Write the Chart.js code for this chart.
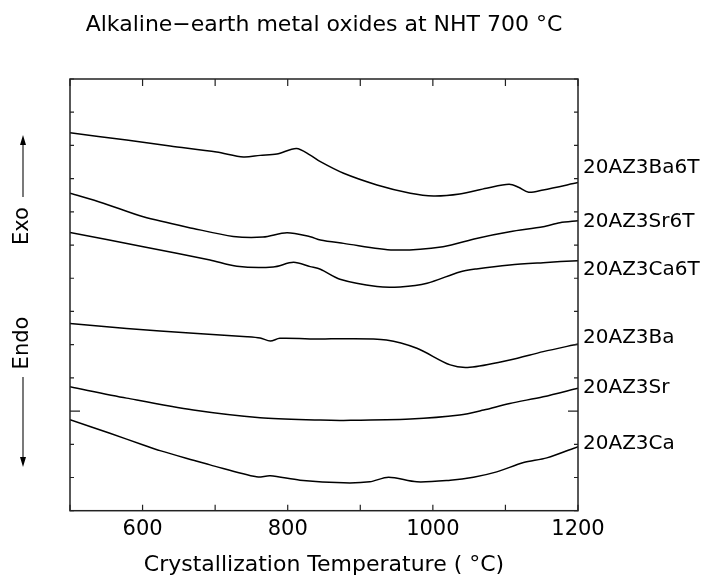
<!DOCTYPE html>
<html>
<head>
<meta charset="utf-8">
<script src="https://cdn.jsdelivr.net/npm/chart.js@4.4.1/dist/chart.umd.min.js"></script>
<style>
  html, body { margin: 0; padding: 0; background: #fff; }
  #wrap { width: 707px; height: 585px; }
</style>
</head>
<body>
<div id="wrap"><canvas id="dta"></canvas></div>
<script>
const seriesNames = ['20AZ3Ba6T', '20AZ3Sr6T', '20AZ3Ca6T', '20AZ3Ba', '20AZ3Sr', '20AZ3Ca'];
const xTickLabels = [600, 800, 1000, 1200];

// temperatures (deg C) and DTA signal (arb. units)
const tempBa6T = [500, 578, 638, 702, 739, 762, 785, 812, 831, 845, 877, 923, 969, 1001, 1037, 1074, 1105, 1118, 1132, 1152, 1200];
const valBa6T  = [11.38, 11.16, 10.98, 10.80, 10.65, 10.70, 10.74, 10.91, 10.71, 10.51, 10.16, 9.81, 9.56, 9.48, 9.54, 9.71, 9.83, 9.74, 9.59, 9.66, 9.88];

const tempSr6T = [500, 546, 601, 670, 725, 766, 799, 831, 845, 877, 946, 1014, 1060, 1106, 1152, 1175, 1200];
const valSr6T  = [9.56, 9.26, 8.85, 8.50, 8.26, 8.24, 8.37, 8.25, 8.15, 8.05, 7.85, 7.95, 8.20, 8.40, 8.55, 8.67, 8.73];

const tempCa6T = [500, 601, 693, 730, 780, 808, 831, 845, 872, 923, 955, 992, 1037, 1060, 1106, 1152, 1200];
const valCa6T  = [8.38, 7.95, 7.55, 7.36, 7.34, 7.48, 7.35, 7.27, 6.97, 6.75, 6.74, 6.85, 7.19, 7.28, 7.40, 7.47, 7.53];

const tempBa = [500, 578, 670, 744, 762, 776, 789, 845, 877, 936, 978, 1024, 1051, 1106, 1152, 1200];
const valBa  = [5.64, 5.49, 5.34, 5.24, 5.20, 5.11, 5.19, 5.17, 5.18, 5.14, 4.89, 4.39, 4.32, 4.54, 4.79, 5.02];

const tempSr = [500, 578, 670, 762, 845, 877, 969, 1037, 1070, 1106, 1152, 1200];
const valSr  = [3.73, 3.39, 3.03, 2.80, 2.73, 2.72, 2.76, 2.88, 3.03, 3.23, 3.43, 3.69];

const tempCa = [500, 555, 601, 624, 670, 693, 757, 776, 817, 877, 913, 939, 978, 1024, 1056, 1088, 1125, 1157, 1200];
const valCa  = [2.74, 2.33, 1.98, 1.81, 1.52, 1.38, 1.02, 1.05, 0.92, 0.84, 0.87, 1.01, 0.87, 0.92, 1.01, 1.17, 1.45, 1.59, 1.93];

const temps = [tempBa6T, tempSr6T, tempCa6T, tempBa, tempSr, tempCa];
const vals = [valBa6T, valSr6T, valCa6T, valBa, valSr, valCa];

// label nudge in px from the curve's end point
const labelShift = [-15, 1, 9, -6, 0, -3];

const FONT = 'DejaVu Sans';

const frameAndNotes = {
  id: 'frameAndNotes',
  afterDatasetsDraw(chart) {
    const { ctx, chartArea: a, scales: { x, y } } = chart;
    ctx.save();
    ctx.strokeStyle = '#222';
    ctx.lineWidth = 1.5;
    ctx.strokeRect(a.left, a.top, a.right - a.left, a.bottom - a.top);

    // inward ticks on all four sides
    ctx.lineWidth = 1.2;
    ctx.beginPath();
    x.ticks.forEach(t => {
      const px = x.getPixelForValue(t.value);
      ctx.moveTo(px, a.bottom); ctx.lineTo(px, a.bottom - 6);
      ctx.moveTo(px, a.top); ctx.lineTo(px, a.top + 7);
    });
    y.ticks.forEach(t => {
      const py = y.getPixelForValue(t.value);
      const len = t.value === 3 ? 10 : 4;
      ctx.moveTo(a.left, py); ctx.lineTo(a.left + len, py);
      ctx.moveTo(a.right, py); ctx.lineTo(a.right - len, py);
    });
    ctx.stroke();

    // series names at the right
    ctx.fillStyle = '#000';
    ctx.font = '20px "' + FONT + '"';
    ctx.textAlign = 'left';
    ctx.textBaseline = 'middle';
    seriesNames.forEach((name, i) => {
      const v = vals[i][vals[i].length - 1];
      ctx.fillText(name, a.right + 5, y.getPixelForValue(v) + labelShift[i]);
    });

    // Exo / Endo arrows
    const ax = 23;
    ctx.font = '21px "' + FONT + '"';
    ctx.textAlign = 'center';
    [['Exo', 226], ['Endo', 343]].forEach(([txt, cy]) => {
      ctx.save();
      ctx.translate(ax, cy);
      ctx.rotate(-Math.PI / 2);
      ctx.fillText(txt, 0, 0);
      ctx.restore();
    });
    ctx.lineWidth = 1.2;
    ctx.beginPath();
    ctx.moveTo(ax, 197); ctx.lineTo(ax, 142);
    ctx.moveTo(ax, 377); ctx.lineTo(ax, 460);
    ctx.stroke();
    ctx.beginPath();
    ctx.moveTo(ax, 135); ctx.lineTo(ax - 3, 145); ctx.lineTo(ax + 3, 145); ctx.closePath();
    ctx.moveTo(ax, 467); ctx.lineTo(ax - 3, 457); ctx.lineTo(ax + 3, 457); ctx.closePath();
    ctx.fill();
    ctx.restore();
  }
};

const ctx = document.getElementById('dta').getContext('2d');
new Chart(ctx, {
  type: 'line',
  data: {
    datasets: seriesNames.map((name, i) => ({
      label: name,
      data: temps[i].map((t, k) => ({ x: t, y: vals[i][k] })),
      borderColor: '#000',
      borderWidth: 1.5,
      pointRadius: 0,
      fill: false,
      tension: 0.3
    }))
  },
  options: {
    responsive: true,
    maintainAspectRatio: false,
    animation: false,
    layout: { padding: { left: 70, right: 129, top: 0, bottom: 0 } },
    plugins: {
      legend: { display: false },
      tooltip: { enabled: false },
      title: {
        display: true,
        text: 'Alkaline\u2212earth metal oxides at NHT 700 \u00B0C',
        color: '#000',
        font: { family: FONT, size: 22, weight: 'normal' },
        padding: { top: 12, bottom: 40.6 }
      }
    },
    scales: {
      x: {
        type: 'linear',
        min: 500,
        max: 1200,
        grid: { display: false, drawTicks: false },
        border: { display: false },
        ticks: {
          stepSize: 100,
          autoSkip: false,
          maxRotation: 0,
          padding: 6,
          color: '#000',
          font: { family: FONT, size: 21 },
          callback: v => xTickLabels.includes(v) ? String(v) : ''
        },
        title: {
          display: true,
          text: 'Crystallization Temperature ( \u00B0C)',
          color: '#000',
          font: { family: FONT, size: 22 },
          padding: { top: 0, bottom: 7 }
        },
        afterFit: s => { s.height = 74.3; }
      },
      y: {
        min: 0,
        max: 13,
        grid: { display: false, drawTicks: false },
        border: { display: false },
        ticks: { stepSize: 1, display: false },
        afterFit: s => { s.width = 0; }
      }
    }
  },
  plugins: [frameAndNotes]
});
</script>
</body>
</html>
